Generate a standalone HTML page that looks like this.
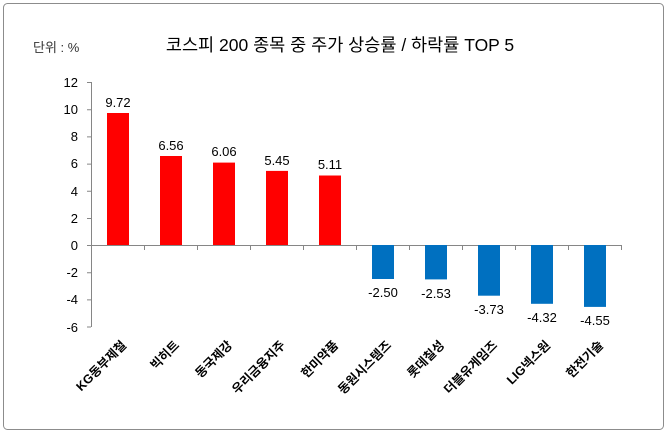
<!DOCTYPE html>
<html><head><meta charset="utf-8"><style>body{margin:0;background:#fff}</style></head><body>
<svg width="670" height="433" xmlns="http://www.w3.org/2000/svg" font-family="'Liberation Sans','Noto Sans CJK KR',sans-serif">
<rect x="3.5" y="3.5" width="660" height="426" rx="4" fill="#fff" stroke="#8c8c8c" stroke-width="1"/>
<text x="340" y="51" font-size="17.5" text-anchor="middle" fill="#000">코스피 200 종목 중  주가 상승률 / 하락률 TOP 5</text>
<text x="33" y="52" font-size="13" fill="#333">단위  : %</text>
<g stroke="#868686" stroke-width="1">
<line x1="91.5" y1="82" x2="91.5" y2="327"/>
<line x1="91" y1="245.5" x2="621" y2="245.5"/>
</g>
<g font-size="13" fill="#000" text-anchor="end">
<text x="78" y="87">12</text><text x="78" y="114">10</text><text x="78" y="141">8</text><text x="78" y="168">6</text><text x="78" y="196">4</text><text x="78" y="223">2</text><text x="78" y="250">0</text><text x="78" y="277">-2</text><text x="78" y="304">-4</text><text x="78" y="332">-6</text>
</g>
<g stroke="#868686">
<path d="M87 82.5h4M87 109.7h4M87 136.9h4M87 164.1h4M87 191.3h4M87 218.5h4M87 245.5h4M87 272.7h4M87 299.9h4M87 327h4"/>
<path d="M144.5 245v5M197.5 245v5M250.5 245v5M303.5 245v5M356.5 245v5M409.5 245v5M462.5 245v5M515.5 245v5M568.5 245v5M621.5 245v5"/>
</g>
<g fill="#ff0000">
<rect x="107" y="113" width="22" height="132"/>
<rect x="160" y="156" width="22" height="89"/>
<rect x="213" y="162.6" width="22" height="82.4"/>
<rect x="266" y="170.9" width="22" height="74.1"/>
<rect x="319" y="175.5" width="22" height="69.5"/>
</g>
<g fill="#0070c0">
<rect x="372" y="245" width="22" height="34"/>
<rect x="425" y="245" width="22" height="34.4"/>
<rect x="478" y="245" width="22" height="50.7"/>
<rect x="531" y="245" width="22" height="58.8"/>
<rect x="584" y="245" width="22" height="61.9"/>
</g>
<g font-size="13" fill="#000" text-anchor="middle">
<text x="118" y="107">9.72</text><text x="171" y="150">6.56</text><text x="224" y="156">6.06</text><text x="277" y="165">5.45</text><text x="330" y="169">5.11</text>
<text x="383" y="297">-2.50</text><text x="436" y="298">-2.53</text><text x="489" y="314">-3.73</text><text x="542" y="322">-4.32</text><text x="595" y="325">-4.55</text>
</g>
<g font-size="12.5" font-weight="bold" fill="#000" text-anchor="end">
<text transform="translate(127,346) rotate(-45)">KG동부제철</text>
<text transform="translate(180,346) rotate(-45)">빅히트</text>
<text transform="translate(233,346) rotate(-45)">동국제강</text>
<text transform="translate(286,346) rotate(-45)">우리금융지주</text>
<text transform="translate(339,346) rotate(-45)">한미약품</text>
<text transform="translate(392,346) rotate(-45)">동원시스템즈</text>
<text transform="translate(445,346) rotate(-45)">롯데칠성</text>
<text transform="translate(498,346) rotate(-45)">더블유게임즈</text>
<text transform="translate(551,346) rotate(-45)">LIG넥스원</text>
<text transform="translate(604,346) rotate(-45)">한전기술</text>
</g>
</svg>
</body></html>
